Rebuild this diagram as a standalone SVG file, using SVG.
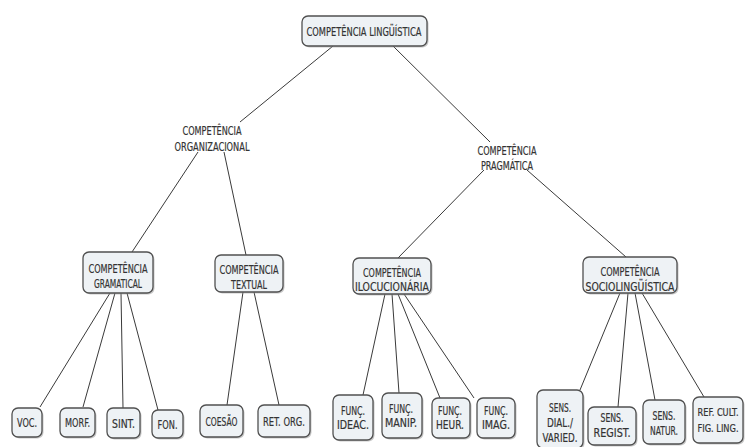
<svg xmlns="http://www.w3.org/2000/svg" width="748" height="447" viewBox="0 0 748 447">
<style>
.box{fill:#eef2f5;stroke:#505050;stroke-width:1.3}
.sh{fill:#9a9a9a;opacity:0.55}
.t{font-family:"DejaVu Sans Condensed","Liberation Sans Narrow","Liberation Sans",sans-serif;font-size:12px;fill:#333;stroke:#333;stroke-width:0.2;text-anchor:middle}
.s{font-size:10px}
.c line{stroke:#3a3a3a;stroke-width:1}
</style>
<rect width="748" height="447" fill="#fff"/>
<g class="c" id="connectors">
<line x1="333" y1="46" x2="240" y2="122"/>
<line x1="393" y1="46" x2="490" y2="142"/>
<line x1="198" y1="152" x2="132" y2="252"/>
<line x1="224" y1="152" x2="246" y2="255"/>
<line x1="484" y1="170" x2="398" y2="258"/>
<line x1="527" y1="170" x2="626" y2="257"/>
<line x1="110" y1="293" x2="40" y2="407"/>
<line x1="115" y1="293" x2="83" y2="407"/>
<line x1="121" y1="293" x2="123" y2="408"/>
<line x1="127" y1="293" x2="158" y2="410"/>
<line x1="243" y1="292" x2="227" y2="405"/>
<line x1="254" y1="292" x2="279" y2="405"/>
<line x1="385" y1="294" x2="363" y2="395"/>
<line x1="392" y1="294" x2="399" y2="393"/>
<line x1="398" y1="294" x2="440" y2="398"/>
<line x1="404" y1="294" x2="474" y2="398"/>
<line x1="620" y1="293" x2="580" y2="390"/>
<line x1="628" y1="293" x2="618" y2="407"/>
<line x1="635" y1="293" x2="655" y2="400"/>
<line x1="642" y1="293" x2="704" y2="397"/>
</g>
<g id="root">
<rect class="sh" x="303.5" y="17.5" width="125" height="30" rx="6"/>
<rect class="box" x="302" y="16" width="125" height="30" rx="6"/>
<text class="t" x="364" y="35.5" textLength="115" lengthAdjust="spacingAndGlyphs">COMPETÊNCIA LINGÜÍSTICA</text>
</g>
<g id="organizacional">
<text class="t" x="212" y="134.5" textLength="59" lengthAdjust="spacingAndGlyphs">COMPETÊNCIA</text>
<text class="t" x="212" y="150.5" textLength="75" lengthAdjust="spacingAndGlyphs">ORGANIZACIONAL</text>
</g>
<g id="pragmatica">
<text class="t" x="507" y="154.5" textLength="59" lengthAdjust="spacingAndGlyphs">COMPETÊNCIA</text>
<text class="t" x="507" y="169.5" textLength="52" lengthAdjust="spacingAndGlyphs">PRAGMÁTICA</text>
</g>
<g id="gramatical">
<rect class="sh" x="84.5" y="253.5" width="70" height="41" rx="6"/>
<rect class="box" x="83" y="252" width="70" height="41" rx="6"/>
<text class="t" x="118" y="272.5" textLength="59" lengthAdjust="spacingAndGlyphs">COMPETÊNCIA</text>
<text class="t" x="118" y="287.5" textLength="48" lengthAdjust="spacingAndGlyphs">GRAMATICAL</text>
</g>
<g id="textual">
<rect class="sh" x="216.5" y="256.5" width="68" height="37" rx="6"/>
<rect class="box" x="215" y="255" width="68" height="37" rx="6"/>
<text class="t" x="249" y="273.5" textLength="59" lengthAdjust="spacingAndGlyphs">COMPETÊNCIA</text>
<text class="t" x="249" y="289" textLength="36" lengthAdjust="spacingAndGlyphs">TEXTUAL</text>
</g>
<g id="ilocucionaria">
<rect class="sh" x="354.5" y="259.5" width="78" height="36" rx="6"/>
<rect class="box" x="353" y="258" width="78" height="36" rx="6"/>
<text class="t" x="392" y="276.5" textLength="58" lengthAdjust="spacingAndGlyphs">COMPETÊNCIA</text>
<text class="t" x="392" y="290.5" textLength="74" lengthAdjust="spacingAndGlyphs">ILOCUCIONÁRIA</text>
</g>
<g id="sociolinguistica">
<rect class="sh" x="584.5" y="258.5" width="94" height="36" rx="6"/>
<rect class="box" x="583" y="257" width="94" height="36" rx="6"/>
<text class="t" x="630" y="275.5" textLength="59" lengthAdjust="spacingAndGlyphs">COMPETÊNCIA</text>
<text class="t" x="630" y="290.5" textLength="89" lengthAdjust="spacingAndGlyphs">SOCIOLINGÜÍSTICA</text>
</g>
<g id="voc">
<rect class="sh" x="13.5" y="409.5" width="30" height="29" rx="6"/>
<rect class="box" x="12" y="408" width="30" height="29" rx="6"/>
<text class="t" x="27" y="427" textLength="20" lengthAdjust="spacingAndGlyphs">VOC.</text>
</g>
<g id="morf">
<rect class="sh" x="61.5" y="409.5" width="35" height="29" rx="6"/>
<rect class="box" x="60" y="408" width="35" height="29" rx="6"/>
<text class="t" x="77.5" y="427" textLength="25" lengthAdjust="spacingAndGlyphs">MORF.</text>
</g>
<g id="sint">
<rect class="sh" x="108.5" y="409.5" width="33" height="30" rx="6"/>
<rect class="box" x="107" y="408" width="33" height="30" rx="6"/>
<text class="t" x="123.5" y="427.5" textLength="23" lengthAdjust="spacingAndGlyphs">SINT.</text>
</g>
<g id="fon">
<rect class="sh" x="153.5" y="411.5" width="31" height="28" rx="6"/>
<rect class="box" x="152" y="410" width="31" height="28" rx="6"/>
<text class="t" x="167.5" y="428.5" textLength="20" lengthAdjust="spacingAndGlyphs">FON.</text>
</g>
<g id="coesao">
<rect class="sh" x="201.5" y="406.5" width="43" height="32" rx="6"/>
<rect class="box" x="200" y="405" width="43" height="32" rx="6"/>
<text class="t" x="221.5" y="425.5" textLength="32" lengthAdjust="spacingAndGlyphs">COESÃO</text>
</g>
<g id="retorg">
<rect class="sh" x="259.5" y="406.5" width="52" height="32" rx="6"/>
<rect class="box" x="258" y="405" width="52" height="32" rx="6"/>
<text class="t" x="284" y="425.5" textLength="42" lengthAdjust="spacingAndGlyphs">RET. ORG.</text>
</g>
<g id="ideac">
<rect class="sh" x="334.5" y="396.5" width="40" height="45" rx="6"/>
<rect class="box" x="333" y="395" width="40" height="45" rx="6"/>
<text class="t" x="353" y="414.5" textLength="24" lengthAdjust="spacingAndGlyphs">FUNÇ.</text>
<text class="t" x="353" y="428.5" textLength="32" lengthAdjust="spacingAndGlyphs">IDEAC.</text>
</g>
<g id="manip">
<rect class="sh" x="383.5" y="394.5" width="40" height="45" rx="6"/>
<rect class="box" x="382" y="393" width="40" height="45" rx="6"/>
<text class="t" x="401" y="412.5" textLength="24" lengthAdjust="spacingAndGlyphs">FUNÇ.</text>
<text class="t" x="401" y="426.5" textLength="32" lengthAdjust="spacingAndGlyphs">MANIP.</text>
</g>
<g id="heur">
<rect class="sh" x="433.5" y="399.5" width="38" height="40" rx="6"/>
<rect class="box" x="432" y="398" width="38" height="40" rx="6"/>
<text class="t" x="450" y="414.5" textLength="24" lengthAdjust="spacingAndGlyphs">FUNÇ.</text>
<text class="t" x="450" y="428.5" textLength="28" lengthAdjust="spacingAndGlyphs">HEUR.</text>
</g>
<g id="imag">
<rect class="sh" x="478.5" y="399.5" width="38" height="40" rx="6"/>
<rect class="box" x="477" y="398" width="38" height="40" rx="6"/>
<text class="t" x="496" y="414.5" textLength="24" lengthAdjust="spacingAndGlyphs">FUNÇ.</text>
<text class="t" x="496" y="428.5" textLength="28" lengthAdjust="spacingAndGlyphs">IMAG.</text>
</g>
<g id="dial">
<rect class="sh" x="538.5" y="391.5" width="46" height="58" rx="6"/>
<rect class="box" x="537" y="390" width="46" height="58" rx="6"/>
<text class="t" x="560" y="411.5" textLength="22" lengthAdjust="spacingAndGlyphs">SENS.</text>
<text class="t" x="560" y="426.5" textLength="26" lengthAdjust="spacingAndGlyphs">DIAL./</text>
<text class="t" x="560" y="441.5" textLength="35" lengthAdjust="spacingAndGlyphs">VARIED.</text>
</g>
<g id="regist">
<rect class="sh" x="589.5" y="408.5" width="48" height="38" rx="6"/>
<rect class="box" x="588" y="407" width="48" height="38" rx="6"/>
<text class="t" x="612" y="421.5" textLength="23" lengthAdjust="spacingAndGlyphs">SENS.</text>
<text class="t" x="612" y="436.5" textLength="37" lengthAdjust="spacingAndGlyphs">REGIST.</text>
</g>
<g id="natur">
<rect class="sh" x="644.5" y="401.5" width="42" height="44" rx="6"/>
<rect class="box" x="643" y="400" width="42" height="44" rx="6"/>
<text class="t" x="664" y="419.5" textLength="23" lengthAdjust="spacingAndGlyphs">SENS.</text>
<text class="t" x="664" y="434.5" textLength="28" lengthAdjust="spacingAndGlyphs">NATUR.</text>
</g>
<g id="refcult">
<rect class="sh" x="694.5" y="398.5" width="50" height="46" rx="6"/>
<rect class="box" x="693" y="397" width="50" height="46" rx="6"/>
<text class="t s" x="718" y="416" textLength="41" lengthAdjust="spacingAndGlyphs">REF. CULT.</text>
<text class="t s" x="718" y="431.5" textLength="41" lengthAdjust="spacingAndGlyphs">FIG. LING.</text>
</g>
</svg>
